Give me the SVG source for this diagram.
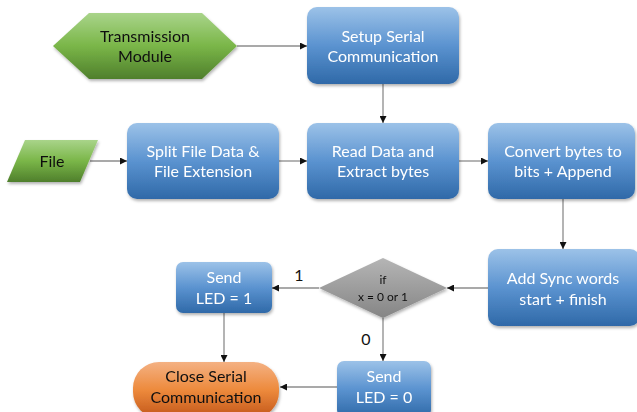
<svg xmlns="http://www.w3.org/2000/svg" width="637" height="412" viewBox="0 0 637 412">
<style>
.t{font-family:Lato,"Liberation Sans",sans-serif;font-size:16px;text-anchor:middle}
.w{fill:#ffffff}
.k{fill:#111111}
.c{stroke:#8c8c8c;stroke-width:1.3;fill:none;marker-end:url(#ah)}
</style>
<defs>
<linearGradient id="gb" x1="0" y1="0" x2="0" y2="1"><stop offset="0" stop-color="#9cc2e8"/><stop offset="0.5" stop-color="#5b93d0"/><stop offset="1" stop-color="#2f69a8"/></linearGradient>
<linearGradient id="gg" x1="0" y1="0" x2="0" y2="1"><stop offset="0" stop-color="#a9d48a"/><stop offset="0.5" stop-color="#7ab648"/><stop offset="1" stop-color="#4f7f2c"/></linearGradient>
<linearGradient id="go" x1="0" y1="0" x2="0" y2="1"><stop offset="0" stop-color="#f4b183"/><stop offset="0.5" stop-color="#ed8a3c"/><stop offset="1" stop-color="#c2561a"/></linearGradient>
<linearGradient id="gd" x1="0" y1="0" x2="0" y2="1"><stop offset="0" stop-color="#b5b5b5"/><stop offset="1" stop-color="#858585"/></linearGradient>
<filter id="sh" x="-10%" y="-10%" width="125%" height="130%"><feDropShadow dx="1" dy="2" stdDeviation="1.5" flood-color="#000" flood-opacity="0.3"/></filter>
<marker id="ah" viewBox="0 0 10 10" refX="10" refY="5" markerWidth="7" markerHeight="7" markerUnits="userSpaceOnUse" orient="auto"><path d="M0,0 L10,5 L0,10 z" fill="#111"/></marker>
</defs>
<g id="connectors">
<line class="c" x1="237" y1="46" x2="307" y2="46"/>
<line class="c" x1="383" y1="84" x2="383" y2="123"/>
<line class="c" x1="90" y1="161" x2="127" y2="161"/>
<line class="c" x1="279" y1="161" x2="307" y2="161"/>
<line class="c" x1="459" y1="161" x2="488" y2="161"/>
<line class="c" x1="563" y1="199" x2="563" y2="249"/>
<line class="c" x1="488" y1="288" x2="447" y2="288"/>
<line class="c" x1="319" y1="288" x2="272" y2="288"/>
<line class="c" x1="224" y1="313" x2="224" y2="362"/>
<line class="c" x1="383" y1="318" x2="383" y2="361"/>
<line class="c" x1="337" y1="387" x2="280" y2="387"/>
<text class="t k" x="299" y="281">1</text>
<text class="t k" x="366" y="345">0</text>
</g>
<g id="transmission" filter="url(#sh)">
<polygon points="53,46 89,13 202,13 237,46 202,79 89,79" fill="url(#gg)"/>
<text class="t k" x="145" y="42">Transmission</text>
<text class="t k" x="145" y="62">Module</text>
</g>
<g id="setup" filter="url(#sh)">
<rect x="307" y="7" width="152" height="77" rx="10" fill="url(#gb)"/>
<text class="t w" x="383" y="42">Setup Serial</text>
<text class="t w" x="383" y="62">Communication</text>
</g>
<g id="file" filter="url(#sh)">
<polygon points="25,140 98,140 80,182 7,182" fill="url(#gg)"/>
<text class="t k" x="52" y="167">File</text>
</g>
<g id="split" filter="url(#sh)">
<rect x="127" y="123" width="152" height="76" rx="10" fill="url(#gb)"/>
<text class="t w" x="203" y="157">Split File Data &amp;</text>
<text class="t w" x="203" y="177">File Extension</text>
</g>
<g id="read" filter="url(#sh)">
<rect x="307" y="123" width="152" height="76" rx="10" fill="url(#gb)"/>
<text class="t w" x="383" y="157">Read Data and</text>
<text class="t w" x="383" y="177">Extract bytes</text>
</g>
<g id="convert" filter="url(#sh)">
<rect x="488" y="123" width="147" height="76" rx="10" fill="url(#gb)"/>
<text class="t w" x="563" y="157">Convert bytes to</text>
<text class="t w" x="563" y="177">bits + Append</text>
</g>
<g id="sync" filter="url(#sh)">
<rect x="488" y="249" width="152" height="77" rx="10" fill="url(#gb)"/>
<text class="t w" x="563" y="284">Add Sync words</text>
<text class="t w" x="563" y="305">start + finish</text>
</g>
<g id="decision" filter="url(#sh)">
<polygon points="319,288 383,258 447,288 383,318" fill="url(#gd)"/>
<text class="t k" x="383" y="284" style="font-size:12px">if</text>
<text class="t k" x="383" y="301" style="font-size:12px">x = 0 or 1</text>
</g>
<g id="send1" filter="url(#sh)">
<rect x="176" y="262" width="96" height="51" rx="7" fill="url(#gb)"/>
<text class="t w" x="224" y="283">Send</text>
<text class="t w" x="224" y="304">LED = 1</text>
</g>
<g id="send0" filter="url(#sh)">
<rect x="337" y="361" width="94" height="56" rx="7" fill="url(#gb)"/>
<text class="t w" x="384" y="382">Send</text>
<text class="t w" x="384" y="403">LED = 0</text>
</g>
<g id="close" filter="url(#sh)">
<rect x="133" y="362" width="146" height="56" rx="26" fill="url(#go)"/>
<text class="t k" x="206" y="382">Close Serial</text>
<text class="t k" x="206" y="403">Communication</text>
</g>
</svg>
